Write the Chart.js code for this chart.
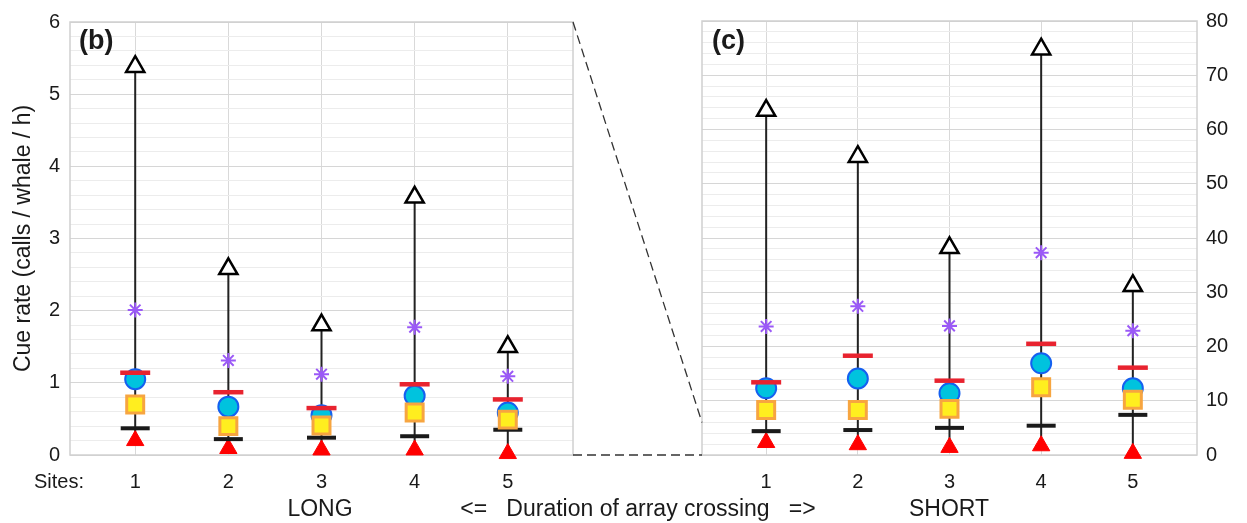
<!DOCTYPE html>
<html>
<head>
<meta charset="utf-8">
<script src="https://cdn.jsdelivr.net/npm/chart.js@4.4.0/dist/chart.umd.min.js"></script>
<style>
  body { margin: 0; background: #fff; width: 1247px; height: 523px; position: relative; overflow: hidden;
         font-family: 'Liberation Sans', Arial, sans-serif; color: #1a1a1a; }
  canvas { position: absolute; top: 0; }
  .lbl { position: absolute; white-space: pre; line-height: 1; transform: translate(-50%, -50%); }
  .panel { position: absolute; font-weight: bold; font-size: 27px; line-height: 1; transform: translateY(-50%); }
</style>
</head>
<body>
<canvas id="chartB" width="600" height="523" style="left:0"></canvas>
<canvas id="chartC" width="627" height="523" style="left:620px"></canvas>
<canvas id="link" width="1247" height="523" style="left:0;pointer-events:none"></canvas>

<div class="panel" style="left:79px;top:40px">(b)</div>
<div class="panel" style="left:712px;top:40px">(c)</div>
<div class="lbl" style="left:59px;top:481px;font-size:20px">Sites:</div>
<div class="lbl" style="left:320px;top:508px;font-size:23px">LONG</div>
<div class="lbl" style="left:638px;top:508px;font-size:23px"><=   Duration of array crossing   =></div>
<div class="lbl" style="left:949px;top:508px;font-size:23px">SHORT</div>

<script>
// sites along x for both panels
const sites = [1, 2, 3, 4, 5];

// (b) LONG crossings, calls / whale / h
const maxLong       = [5.38, 2.58, 1.80, 3.57, 1.50];
const starLong      = [2.01, 1.31, 1.12, 1.77, 1.09];
const redDashLong   = [1.14, 0.87, 0.65, 0.98, 0.77];
const circleLong    = [1.05, 0.67, 0.55, 0.82, 0.59];
const squareLong    = [0.70, 0.40, 0.41, 0.59, 0.49];
const blackDashLong = [0.37, 0.22, 0.24, 0.26, 0.35];
const minLong       = [0.20, 0.09, 0.07, 0.07, 0.02];

// (c) SHORT crossings
const maxShort       = [63.5, 55.0, 38.2, 74.8, 31.2];
const starShort      = [23.7, 27.4, 23.8, 37.3, 22.9];
const redDashShort   = [13.4, 18.3, 13.7, 20.5, 16.1];
const circleShort    = [12.3, 14.1, 11.4, 16.9, 12.3];
const squareShort    = [8.3, 8.3, 8.5, 12.5, 10.2];
const blackDashShort = [4.4, 4.6, 5.0, 5.4, 7.4];
const minShort       = [2.3, 1.9, 1.4, 1.7, 0.3];

// axis settings
const yMaxLong = 6,  yStepLong = 0.2,  yMajorLong = 1;
const yMaxShort = 80, yStepShort = 2, yMajorShort = 10;

const FONT = "'Liberation Sans', Arial, sans-serif";

function pts(vals) {
    return sites.map((s, i) => ({x: s, y: vals[i]}));
}

// vertical whisker from min to max at each site, broken by gaps
function rangePts(lo, hi) {
    const out = [];
    sites.forEach((s, i) => {
        out.push({x: s, y: lo[i]}, {x: s, y: hi[i]}, {x: s, y: null});
    });
    return out;
}

function marker(vals, style) {
    return Object.assign({data: pts(vals), clip: false, showLine: false}, style);
}

// grey box round the plot area, drawn under the markers
const framePlugin = {
    id: 'frame',
    beforeDatasetsDraw(chart) {
        const a = chart.chartArea, ctx = chart.ctx;
        ctx.save();
        ctx.strokeStyle = '#d0d0d0';
        ctx.lineWidth = 1.5;
        ctx.strokeRect(a.left, a.top, a.right - a.left, a.bottom - a.top);
        ctx.restore();
    }
};

function buildChart(id, s, opt) {
    const isMajor = v => Math.abs(v / opt.major - Math.round(v / opt.major)) < 1e-6;
    const datasets = [
        marker(s.redDash,   {pointStyle: 'line', pointRadius: 15, borderColor: '#e8232f', borderWidth: 4.5}),
        marker(s.square,    {pointStyle: 'rect', pointRadius: 12, backgroundColor: '#ffee1f', borderColor: '#f7a540', borderWidth: 3}),
        marker(s.circle,    {pointStyle: 'circle', pointRadius: 10, backgroundColor: '#00c3de', borderColor: '#1560f0', borderWidth: 2}),
        marker(s.star,      {pointStyle: 'star', pointRadius: 7.5, borderColor: '#9b59f7', borderWidth: 2}),
        marker(s.max,       {pointStyle: 'triangle', pointRadius: 10.5, backgroundColor: '#ffffff', borderColor: '#000000', borderWidth: 2.5}),
        marker(s.blackDash, {pointStyle: 'line', pointRadius: 14.5, borderColor: '#1a1a1a', borderWidth: 4}),
        marker(s.min,       {pointStyle: 'triangle', pointRadius: 10, backgroundColor: '#ff0000', borderColor: '#ff0000', borderWidth: 1}),
        {data: rangePts(s.min, s.max), showLine: true, pointRadius: 0, borderColor: '#222222', borderWidth: 2, spanGaps: false}
    ];
    return new Chart(document.getElementById(id), {
        type: 'scatter',
        data: {datasets: datasets},
        plugins: [framePlugin],
        options: {
            responsive: false,
            animation: false,
            devicePixelRatio: 1,
            layout: {padding: opt.padding},
            plugins: {legend: {display: false}, tooltip: {enabled: false}},
            scales: {
                x: {
                    type: 'linear', min: 0.3, max: 5.7,
                    afterFit: sc => { sc.height = 68; },
                    border: {display: false},
                    grid: {color: '#d9d9d9', lineWidth: 1, drawTicks: false},
                    ticks: {stepSize: 1, includeBounds: false, padding: 15, color: '#1a1a1a',
                            font: {family: FONT, size: 20}}
                },
                y: {
                    type: 'linear', position: opt.yPos, min: 0, max: opt.max,
                    afterFit: sc => { sc.width = opt.yWidth; },
                    border: {display: false},
                    grid: {drawTicks: false, lineWidth: 1,
                           color: c => isMajor(c.tick.value) ? '#d6d6d6' : '#ececec'},
                    ticks: {stepSize: opt.step, autoSkip: false, padding: opt.tickPad, color: '#1a1a1a',
                            font: {family: FONT, size: 20},
                            callback: v => isMajor(v) ? String(Math.round(v)) : ''},
                    title: opt.title ? {display: true, text: opt.title, color: '#1a1a1a',
                                        font: {family: FONT, size: 23}, padding: {top: 10, bottom: 0}}
                                     : {display: false}
                }
            }
        }
    });
}

const chartB = buildChart('chartB', {
    max: maxLong, star: starLong, redDash: redDashLong, circle: circleLong,
    square: squareLong, blackDash: blackDashLong, min: minLong
}, {max: yMaxLong, step: yStepLong, major: yMajorLong, yPos: 'left', yWidth: 70, tickPad: 10,
    padding: {left: 0, top: 15, right: 27, bottom: 0}, title: 'Cue rate (calls / whale / h)'});

const chartC = buildChart('chartC', {
    max: maxShort, star: starShort, redDash: redDashShort, circle: circleShort,
    square: squareShort, blackDash: blackDashShort, min: minShort
}, {max: yMaxShort, step: yStepShort, major: yMajorShort, yPos: 'right', yWidth: 50, tickPad: 9,
    padding: {left: 82, top: 16, right: 0, bottom: 0}, title: null});

// dashed lines linking the (b) range onto the (c) axis
function drawLink() {
    const offC = 620;
    const ctx = document.getElementById('link').getContext('2d');
    const xB = chartB.chartArea.right;
    const xC = offC + chartC.chartArea.left;
    ctx.strokeStyle = '#333';
    ctx.lineWidth = 1.3;
    ctx.setLineDash([9, 5]);
    ctx.beginPath();
    ctx.moveTo(xB, chartB.scales.y.getPixelForValue(yMaxLong));
    ctx.lineTo(xC, chartC.scales.y.getPixelForValue(yMaxLong));
    ctx.moveTo(xB, chartB.scales.y.getPixelForValue(0));
    ctx.lineTo(xC, chartC.scales.y.getPixelForValue(0));
    ctx.stroke();
}
drawLink();
</script>
</body>
</html>
